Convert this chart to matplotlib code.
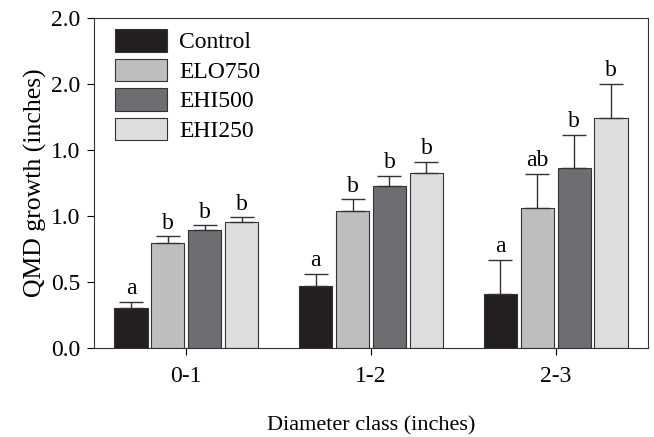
import numpy as np
import matplotlib
matplotlib.use("Agg")
import matplotlib.pyplot as plt
from matplotlib.patches import Patch

plt.rcParams['font.family'] = ['Liberation Serif', 'DejaVu Serif']

# data
classes = ["0-1", "1-2", "2-3"]
treatments = ["Control", "ELO750", "EHI500", "EHI250"]
colors = ["#231f20", "#bcbec0", "#6d6e71", "#dcdddf"]

control = [0.244, 0.376, 0.329]
elo750 = [0.638, 0.828, 0.847]
ehi500 = [0.713, 0.982, 1.089]
ehi250 = [0.762, 1.062, 1.392]

control_se = [0.036, 0.071, 0.204]
elo750_se = [0.039, 0.073, 0.206]
ehi500_se = [0.030, 0.062, 0.204]
ehi250_se = [0.030, 0.065, 0.208]

control_lbl = ["a", "a", "a"]
elo750_lbl = ["b", "b", "ab"]
ehi500_lbl = ["b", "b", "b"]
ehi250_lbl = ["b", "b", "b"]

ytick_vals = [0.0, 0.4, 0.8, 1.2, 1.6, 2.0]
ytick_labels = ["0.0", "0.5", "1.0", "1.0", "2.0", "2.0"]

means = [control, elo750, ehi500, ehi250]
errs = [control_se, elo750_se, ehi500_se, ehi250_se]
letters = [control_lbl, elo750_lbl, ehi500_lbl, ehi250_lbl]

fig = plt.figure(figsize=(6.54, 4.37), dpi=100)
ax = fig.add_axes([94 / 654, 89 / 437, 554 / 654, 330 / 437])

x = np.arange(len(classes))
step = 0.2
width = 0.18
for i, (m, e, lab) in enumerate(zip(means, errs, letters)):
    pos = x + (i - 1.5) * step
    ax.bar(pos, m, width, color=colors[i], edgecolor="#333333", linewidth=0.8,
           zorder=2)
    ax.errorbar(pos, m, yerr=[np.zeros(len(e)), e], fmt="none",
                ecolor="#333333", elinewidth=1.0, capsize=8.5, capthick=1.0,
                zorder=3)
    for xi, yi, ei, t in zip(pos, m, e, lab):
        ax.annotate(t, (xi, yi + ei), xytext=(0, 2), textcoords="offset points",
                    ha="center", va="bottom", fontsize=17)

ax.set_xlim(-0.5, 2.5)
ax.set_ylim(0, 2.0)
ax.set_yticks(ytick_vals)
ax.set_yticklabels(ytick_labels)
ax.set_xticks(x)
ax.set_xticklabels(classes)
ax.tick_params(axis="both", direction="out", length=5, width=0.8,
               labelsize=17, top=False, right=False)
ax.tick_params(axis="x", pad=8)
ax.tick_params(axis="y", pad=5)
for s in ax.spines.values():
    s.set_linewidth(0.8)
    s.set_color("#333333")

ax.set_xlabel("Diameter class (inches)", fontsize=16, labelpad=21)
ax.set_ylabel("QMD growth (inches)", fontsize=18.5, labelpad=3)

handles = [Patch(facecolor=c, edgecolor="#333333", linewidth=0.8) for c in colors]
ax.legend(handles, treatments, loc="upper left", frameon=False, fontsize=17,
          bbox_to_anchor=(21 / 554, 1 - 11 / 330), borderpad=0, borderaxespad=0,
          handlelength=2.2, handleheight=1.1, handletextpad=0.52,
          labelspacing=0.22)

fig.savefig("out.png", dpi=100)
